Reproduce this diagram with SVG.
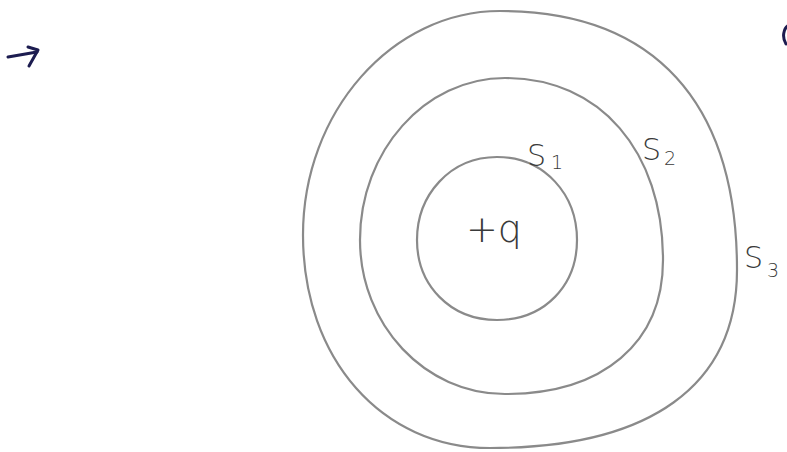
<svg xmlns="http://www.w3.org/2000/svg" width="787" height="452" viewBox="0 0 787 452">
<style>
.surf{fill:none;stroke:#8a8a8a;stroke-width:2.2;stroke-linejoin:round}
.lbl{font-family:"DejaVu Sans",sans-serif;fill:#3a3a3a;font-weight:300}
.ink{fill:none;stroke:#1c1c50;stroke-width:3;stroke-linecap:round;stroke-linejoin:round}
</style>
<rect width="787" height="452" fill="#ffffff"/>
<g id="connectors"></g>
<g id="arrow-mark">
<path class="ink" d="M 8,57 L 37,52"/>
<path class="ink" d="M 28,47 L 38,50 L 29,66"/>
</g>
<g id="edge-mark">
<path class="ink" d="M 789,25 C 783,28 782,38 786,44"/>
</g>
<g id="S3">
<path class="surf" d="M 500,11 C 654,11 737,102 737,270 C 737,386 650,448 490,448 C 382,448 303,359 303,235 C 303,112 392,11 500,11 Z"/>
<text class="lbl" x="744" y="268" font-size="30">S</text>
<text class="lbl" x="767" y="277" font-size="19">3</text>
</g>
<g id="S2">
<path class="surf" d="M 505,78 C 600,78 663,151 663,260 C 663,343 603,394 505,394 C 425,394 360,325 360,240 C 360,151 425,78 505,78 Z"/>
<text class="lbl" x="642" y="160" font-size="30">S</text>
<text class="lbl" x="664" y="165" font-size="19">2</text>
</g>
<g id="S1">
<path class="surf" d="M 497,157 C 545,157 577,195 577,240 C 577,285 545,320 497,320 C 450,320 417,285 417,240 C 417,195 450,157 497,157 Z"/>
<text class="lbl" x="527" y="166" font-size="30">S</text>
<text class="lbl" x="551" y="169" font-size="19">1</text>
</g>
<g id="charge">
<text class="lbl" x="466" y="242" font-size="38">+q</text>
</g>
</svg>
